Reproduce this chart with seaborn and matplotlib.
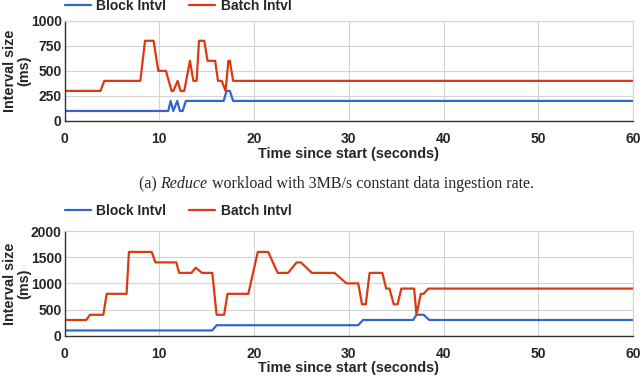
import pandas as pd
import matplotlib
matplotlib.use("Agg")
import matplotlib.pyplot as plt
from matplotlib.lines import Line2D
import seaborn as sns

# (a) Reduce workload, 3MB/s constant ingestion
top_block_t = [0, 10.95, 11.2, 11.48, 11.9, 12.18, 12.47, 12.8, 16.8, 17.1, 17.45, 17.8, 60]
top_block_ms = [100, 100, 200, 100, 200, 100, 100, 200, 200, 300, 300, 200, 200]
top_batch_t = [0, 3.8, 4.2, 8.0, 8.5, 9.4, 9.9, 10.7, 11.3, 11.5, 11.94, 12.25, 12.64, 13.24,
               13.6, 13.94, 14.2, 14.75, 15.1, 15.9, 16.2, 16.6, 17.0, 17.3, 17.45, 17.8, 60]
top_batch_ms = [300, 300, 400, 400, 800, 800, 500, 500, 300, 300, 400, 300, 300, 600,
                400, 400, 800, 800, 600, 600, 400, 400, 300, 600, 600, 400, 400]

# second workload
bot_block_t = [0, 15.6, 16.05, 31.0, 31.5, 36.8, 37.15, 37.9, 38.5, 60]
bot_block_ms = [100, 100, 200, 200, 300, 300, 400, 400, 300, 300]
bot_batch_t = [0, 2.3, 2.7, 4.1, 4.45, 6.55, 6.8, 9.2, 9.6, 11.8, 12.1, 13.4, 13.85, 14.5,
               15.6, 16.05, 16.85, 17.2, 19.4, 20.4, 21.5, 22.5, 23.6, 24.5, 24.95, 26.1,
               28.5, 29.75, 31.0, 31.4, 31.8, 32.2, 33.55, 33.95, 34.3, 34.75, 35.15, 35.55,
               36.9, 37.15, 37.6, 37.9, 38.4, 60]
bot_batch_ms = [300, 300, 400, 400, 800, 800, 1600, 1600, 1400, 1400, 1200, 1200, 1300, 1200,
                1200, 400, 400, 800, 800, 1600, 1600, 1200, 1200, 1400, 1400, 1200,
                1200, 1000, 1000, 600, 600, 1200, 1200, 900, 900, 600, 600, 900,
                900, 400, 800, 800, 900, 900]

series_names = ["Block Intvl", "Batch Intvl"]
colors = {"Block Intvl": "#3366cc", "Batch Intvl": "#dc3912"}
top_yticks = [0, 250, 500, 750, 1000]
bot_yticks = [0, 500, 1000, 1500, 2000]
xticks = [0, 10, 20, 30, 40, 50, 60]


def make_df(bt, bv, rt, rv):
    a = pd.DataFrame({"t": bt, "ms": bv, "series": series_names[0]})
    b = pd.DataFrame({"t": rt, "ms": rv, "series": series_names[1]})
    return pd.concat([a, b], ignore_index=True)


sns.set_style("whitegrid")
plt.rcParams["font.family"] = ["Liberation Sans", "DejaVu Sans"]
plt.rcParams["font.weight"] = "bold"

W, H = 642, 376
fig = plt.figure(figsize=(W / 100, H / 100), dpi=100)
x0, x1 = 64.5, 633

panels = [
    (make_df(top_block_t, top_block_ms, top_batch_t, top_batch_ms), top_yticks, 20.7, 121, 6, -0.26),
    (make_df(bot_block_t, bot_block_ms, bot_batch_t, bot_batch_ms), bot_yticks, 231, 335.7, 210.7, -0.245),
]

for df, yt, ytop, ybot, leg_y, xlab_y in panels:
    ax = fig.add_axes([x0 / W, 1 - ybot / H, (x1 - x0) / W, (ybot - ytop) / H])
    sns.lineplot(data=df, x="t", y="ms", hue="series", palette=colors, estimator=None,
                 sort=False, linewidth=1.6, legend=False, ax=ax)
    ax.set_xlim(0, 60)
    ax.set_ylim(yt[0], yt[-1])
    ax.set_xticks(xticks)
    ax.set_yticks(yt)
    ax.grid(True, color="#d4d4d4", linewidth=0.8)
    ax.tick_params(length=0, labelsize=10)
    ax.tick_params(axis="x", pad=8)
    ax.tick_params(axis="y", pad=2)
    for s in ["top", "right"]:
        ax.spines[s].set_color("#d4d4d4")
        ax.spines[s].set_linewidth(0.8)
    for s in ["left", "bottom"]:
        ax.spines[s].set_color("#333333")
        ax.spines[s].set_linewidth(1.0)
    ax.set_xlabel("Time since start (seconds)", fontsize=10.4, fontweight="bold")
    ax.xaxis.set_label_coords(0.5, xlab_y)
    ax.set_ylabel("Interval size\n(ms)", fontsize=10.4, fontweight="bold", linespacing=1.0)
    ax.yaxis.set_label_coords((31 - x0) / (x1 - x0), 0.5)

    handles = [Line2D([], [], color=colors[n], linewidth=1.6) for n in series_names]
    fig.legend(handles, series_names, loc="center left",
               bbox_to_anchor=(x0 / W, 1 - leg_y / H), ncol=2, frameon=False,
               fontsize=10, handlelength=1.9, handletextpad=0.4, columnspacing=1.6,
               borderpad=0, borderaxespad=0)

# caption for (a), with the workload name in italics
renderer = fig.canvas.get_renderer()
cap_y = 1 - 188 / H
parts = [("(a) ", "normal"), ("Reduce", "italic"),
         (" workload with 3MB/s constant data ingestion rate.", "normal")]
texts = []
for s, style in parts:
    t = fig.text(0, cap_y, s, fontsize=11.5, family="Liberation Serif", fontweight="normal",
                 style=style, va="baseline", ha="left")
    texts.append(t)
widths = [t.get_window_extent(renderer).width for t in texts]
start = 336 - sum(widths) / 2
for t, w in zip(texts, widths):
    t.set_x(start / W)
    start += w

fig.savefig("out.png", dpi=100)
